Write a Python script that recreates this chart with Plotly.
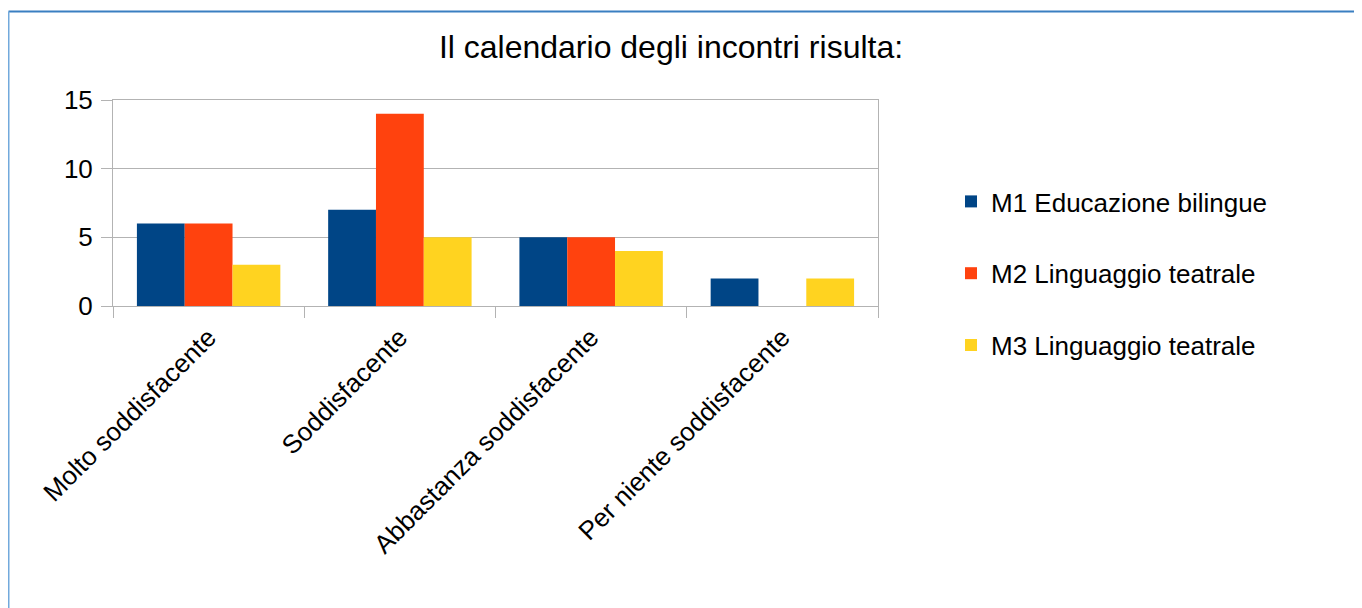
import plotly.graph_objects as go

categories = ["Molto soddisfacente", "Soddisfacente", "Abbastanza soddisfacente", "Per niente soddisfacente"]
series_names = ["M1 Educazione bilingue", "M2 Linguaggio teatrale", "M3 Linguaggio teatrale"]
m1_values = [6, 7, 5, 2]
m2_values = [6, 14, 5, 0]
m3_values = [3, 5, 4, 2]
colors = ["#004586", "#ff420e", "#ffd320"]
title_text = "Il calendario degli incontri risulta:"
y_ticks = [0, 5, 10, 15]

# page has an 8px body margin, so figure coordinates = page coordinates - 8
W, H = 1354, 600
L, R, T, B = 105, 484, 92, 302
pw, ph = W - L - R, H - T - B

fig = go.Figure()
for i, (name, vals) in enumerate(zip(series_names, [m1_values, m2_values, m3_values])):
    fig.add_trace(go.Bar(x=categories, y=vals, name=name, marker=dict(color=colors[i], line=dict(width=0)),
                         legendgroup=f"g{i}"))

font = "Liberation Sans, Arial, sans-serif"
axis_col = "#b3b3b3"

def px_x(p):
    return (p - L) / pw

def px_y(p):
    return (H - B - p) / ph

fig.update_layout(
    width=W, height=H,
    margin=dict(l=L, r=R, t=T, b=B, pad=0),
    paper_bgcolor="white", plot_bgcolor="white",
    font=dict(family=font, size=26, color="#000000"),
    barmode="group", bargap=0.25, bargroupgap=0,
    title=dict(text=title_text, font=dict(family=font, size=32, color="#000000"),
               xref="container", yref="container", x=663 / W, y=1 - 39 / H,
               xanchor="center", yanchor="middle"),
    showlegend=True,
    legend=dict(x=px_x(943), y=px_y(170), xanchor="left", yanchor="top",
                xref="paper", yref="paper",
                font=dict(family=font, size=26), tracegroupgap=35,
                bgcolor="rgba(0,0,0,0)", traceorder="grouped", itemwidth=30),
    xaxis=dict(type="category", showgrid=False, showline=True, linecolor=axis_col, linewidth=1,
               mirror=True,
               ticks="outside", tickson="boundaries", ticklen=11, tickcolor=axis_col, tickwidth=1,
               tickangle=-45, ticklabelstandoff=5,
               tickfont=dict(family=font, size=26, color="#000000")),
    yaxis=dict(range=[0, 15], tickvals=y_ticks, showgrid=True, gridcolor=axis_col, gridwidth=1,
               showline=True, linecolor=axis_col, linewidth=1, mirror=True,
               ticks="outside", ticklen=11, tickcolor=axis_col, tickwidth=1,
               zeroline=False, ticklabelstandoff=3,
               tickfont=dict(family=font, size=26, color="#000000")),
    shapes=[
        dict(type="line", xref="paper", yref="paper", x0=px_x(0.5), x1=px_x(W + 5), y0=px_y(3.5), y1=px_y(3.5),
             line=dict(color="#3a7fc1", width=2), layer="above"),
        dict(type="line", xref="paper", yref="paper", x0=px_x(0.5), x1=px_x(0.5), y0=px_y(3.5), y1=px_y(H + 5),
             line=dict(color="#72a9dc", width=2), layer="above"),
    ],
)

fig.write_html("out.html")
